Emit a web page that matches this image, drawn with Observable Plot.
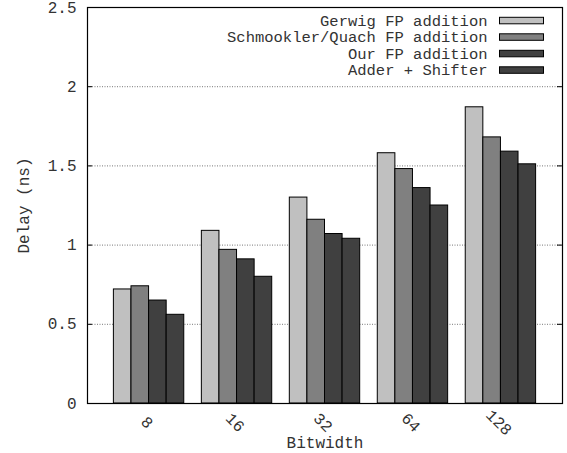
<!DOCTYPE html>
<html>
<head>
<meta charset="utf-8">
<script src="https://cdn.jsdelivr.net/npm/d3@7"></script>
<script src="https://cdn.jsdelivr.net/npm/@observablehq/plot@0.6"></script>
<style>
  html, body { margin: 0; padding: 0; background: #fff; }
</style>
</head>
<body>
<div id="chart"></div>
<script>
const bitwidths = ["8", "16", "32", "64", "128"];
const series = ["Gerwig FP addition", "Schmookler/Quach FP addition", "Our FP addition", "Adder + Shifter"];
const gerwig = [0.72, 1.09, 1.30, 1.58, 1.87];
const schmookler = [0.74, 0.97, 1.16, 1.48, 1.68];
const ours = [0.65, 0.91, 1.07, 1.36, 1.59];
const adderShifter = [0.56, 0.80, 1.04, 1.25, 1.51];
const colors = ["#c0c0c0", "#808080", "#404040", "#404040"];
const yTicks = [0, 0.5, 1, 1.5, 2, 2.5];
const gridTicks = [0.5, 1, 1.5, 2];
const yLabel = "Delay (ns)";
const xLabel = "Bitwidth";

const values = [gerwig, schmookler, ours, adderShifter];
const rows = bitwidths.flatMap((b, gi) =>
  values.map((vals, j) => ({bitwidth: b, gi, j, series: series[j], delay: vals[gi]}))
);

const W = 567, H = 453;
const mL = 87, mR = 5, mT = 7, mB = 50;
const innerW = W - mL - mR, innerH = H - mT - mB;
const textColor = "#333";

const legendMarks = series.flatMap((s, i) => {
  const top = 9.8 + i * 16.5;
  return [
    Plot.frame({fill: colors[i], stroke: "black", strokeWidth: 1,
      insetTop: top, insetBottom: innerH - top - 6.5, insetLeft: 412, insetRight: 19}),
    Plot.text([s], {text: d => d, frameAnchor: "top-right", textAnchor: "end",
      lineAnchor: "middle", dx: -75, dy: top + 3.5, fill: textColor, fontSize: 15.5})
  ];
});

const chart = Plot.plot({
  width: W,
  height: H,
  marginLeft: mL,
  marginRight: mR,
  marginTop: mT,
  marginBottom: mB,
  style: {fontFamily: "'Liberation Mono', 'DejaVu Sans Mono', monospace", fontSize: "16px", background: "#fff", color: textColor},
  x: {domain: [-0.7, 4.7], axis: null},
  y: {domain: [0, 2.5], axis: null},
  color: {domain: series, range: colors},
  marks: [
    Plot.ruleY(gridTicks, {stroke: "#777", strokeOpacity: 1, strokeWidth: 1, strokeDasharray: "1,1.5"}),
    Plot.rectY(rows, {
      x1: d => d.gi - 0.4 + d.j * 0.2,
      x2: d => d.gi - 0.2 + d.j * 0.2,
      y: "delay",
      fill: "series",
      stroke: "black",
      strokeWidth: 1
    }),
    Plot.tickY(yTicks, {y: d => d, stroke: "black", insetRight: innerW - 5}),
    Plot.tickY(yTicks, {y: d => d, stroke: "black", insetLeft: innerW - 5}),
    Plot.text(yTicks, {y: d => d, text: d => String(d), frameAnchor: "left", textAnchor: "end", dx: -11, fill: textColor}),
    Plot.text(bitwidths, {x: (d, i) => i, text: d => d, frameAnchor: "bottom", rotate: 45,
      textAnchor: "middle", lineAnchor: "middle", dx: -2, dy: 19, fill: textColor}),
    Plot.text([yLabel], {text: d => d, frameAnchor: "left", rotate: -90, dx: -64,
      textAnchor: "middle", lineAnchor: "middle", fill: textColor}),
    Plot.text([xLabel], {text: d => d, frameAnchor: "bottom", dy: 39,
      textAnchor: "middle", lineAnchor: "middle", fill: textColor}),
    Plot.frame({stroke: "black", strokeWidth: 1.2}),
    ...legendMarks
  ]
});

document.getElementById("chart").appendChild(chart);
</script>
</body>
</html>
